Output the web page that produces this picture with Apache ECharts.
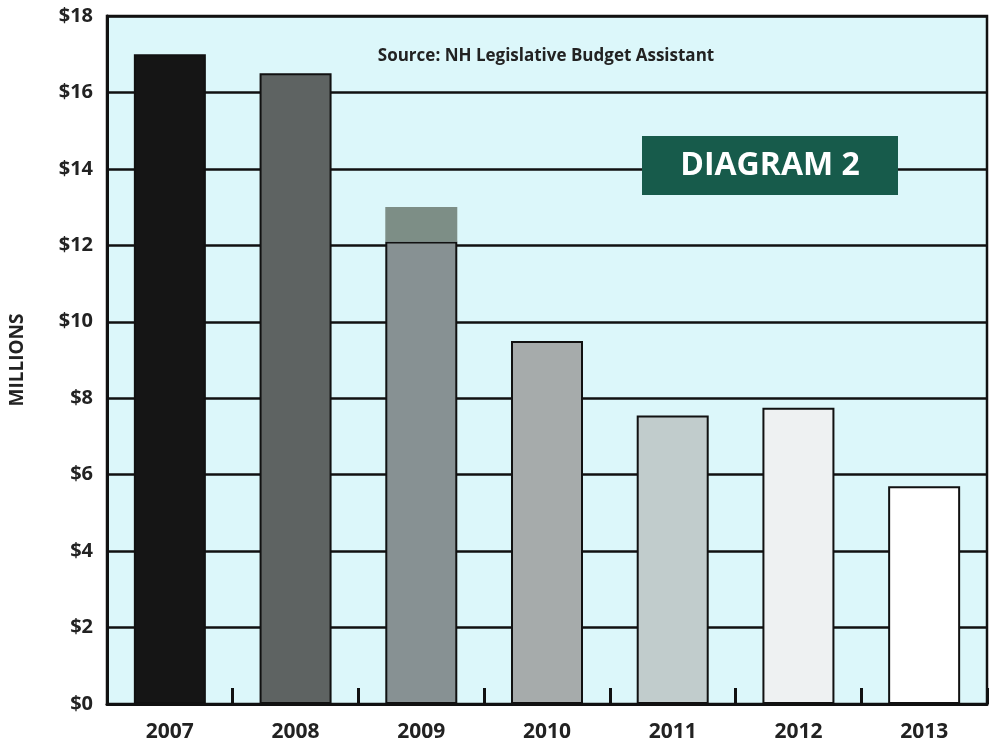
<!DOCTYPE html>
<html>
<head>
<meta charset="utf-8">
<script src="https://cdn.jsdelivr.net/npm/echarts@6/dist/echarts.min.js"></script>
<style>
  html, body { margin: 0; padding: 0; background: #ffffff; }
  #chart { width: 994px; height: 744px; }
</style>
</head>
<body>
<div id="chart"></div>
<script>
// Fiscal years on the category axis
const years = ['2007', '2008', '2009', '2010', '2011', '2012', '2013'];
// Amounts in millions of dollars (main bar)
const amounts = [17.0, 16.5, 12.1, 9.5, 7.55, 7.75, 5.7];
// Extra portion stacked on top of the 2009 bar
const addOn = ['-', '-', 0.9, '-', '-', '-', '-'];
// Value-axis ticks
const yTicks = [0, 2, 4, 6, 8, 10, 12, 14, 16, 18];

// Grey ramp from dark to white, one shade per year
const shades = ['#151515', '#5e6362', '#879193', '#a6abab', '#c1cccc', '#eef1f2', '#ffffff'];

const FONT = '"Open Sans", "Noto Sans", sans-serif';
const chart = echarts.init(document.getElementById('chart'), null, { renderer: 'canvas' });

chart.setOption({
  animation: false,
  backgroundColor: '#ffffff',
  grid: {
    left: 107, right: 7, top: 16, bottom: 40,
    show: true,
    backgroundColor: '#dcf7fa',
    borderColor: '#111111',
    borderWidth: 2.5
  },
  xAxis: {
    type: 'category',
    data: years,
    boundaryGap: true,
    axisLine: { show: true, lineStyle: { color: '#111111', width: 3 } },
    axisTick: { show: true, inside: true, length: 16, lineStyle: { color: '#111111', width: 3 } },
    axisLabel: {
      margin: 18,
      fontFamily: FONT, fontWeight: 'bold', fontSize: 21, color: '#222222'
    },
    splitLine: { show: false }
  },
  yAxis: {
    type: 'value',
    min: yTicks[0],
    max: yTicks[yTicks.length - 1],
    interval: yTicks[1] - yTicks[0],
    name: 'MILLIONS',
    nameLocation: 'middle',
    nameGap: 80,
    nameRotate: 90,
    nameTextStyle: { fontFamily: FONT, fontWeight: 'bold', fontSize: 19, color: '#222222' },
    axisLine: { show: true, lineStyle: { color: '#111111', width: 3 } },
    axisTick: { show: false },
    axisLabel: {
      margin: 14,
      formatter: v => '$' + v,
      fontFamily: FONT, fontWeight: 'bold', fontSize: 20, color: '#222222'
    },
    splitLine: { show: true, lineStyle: { color: '#111111', width: 2.5 } }
  },
  series: [
    {
      type: 'bar',
      stack: 'total',
      barWidth: 72,
      data: amounts,
      itemStyle: {
        color: p => shades[p.dataIndex],
        borderColor: '#111111',
        borderWidth: 2
      },
      z: 3
    },
    {
      type: 'bar',
      stack: 'total',
      barWidth: 72,
      data: addOn,
      itemStyle: { color: '#7d8e86', borderWidth: 0 },
      z: 3
    }
  ],
  graphic: [
    {
      type: 'text',
      x: 546,
      y: 56,
      z: 10,
      style: {
        text: 'Source: NH Legislative Budget Assistant',
        align: 'center', verticalAlign: 'middle',
        font: 'bold 17px ' + FONT,
        fill: '#222222'
      }
    },
    {
      type: 'rect',
      z: 10,
      shape: { x: 642, y: 136, width: 256, height: 59 },
      style: { fill: '#175b4b' }
    },
    {
      type: 'text',
      x: 770,
      y: 166,
      z: 11,
      style: {
        text: 'DIAGRAM 2',
        align: 'center', verticalAlign: 'middle',
        font: 'bold 32px ' + FONT,
        fill: '#ffffff'
      }
    }
  ]
});
</script>
</body>
</html>
